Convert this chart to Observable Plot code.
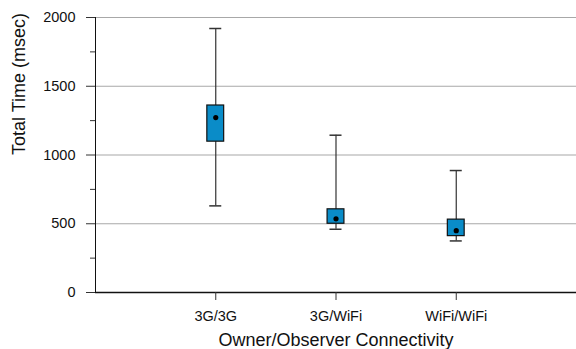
<!DOCTYPE html>
<html>
<head>
<meta charset="utf-8">
<script src="https://cdn.jsdelivr.net/npm/d3@7"></script>
<script src="https://cdn.jsdelivr.net/npm/@observablehq/plot@0.6"></script>
<style>
  html, body { margin: 0; padding: 0; background: #fff; }
  svg { display: block; }
</style>
</head>
<body>
<div id="chart"></div>
<script>
const categories = ["3G/3G", "3G/WiFi", "WiFi/WiFi"];
const whiskerLow  = [630, 460, 375];
const boxLow      = [1097, 500, 410];
const meanValue   = [1272, 536, 450];
const boxHigh     = [1360, 605, 530];
const whiskerHigh = [1920, 1144, 887];
const yTicks = [0, 500, 1000, 1500, 2000];
const yMinorTicks = [250, 750, 1250, 1750];
const gridTicks = [500, 1000, 1500, 2000];

const data = categories.map((c, i) => ({
  cat: c, pos: i + 1,
  wlo: whiskerLow[i], blo: boxLow[i], mean: meanValue[i], bhi: boxHigh[i], whi: whiskerHigh[i]
}));

const boxHalf = 0.07;
const capHalf = 0.05;

const chart = Plot.plot({
  width: 576,
  height: 349,
  marginLeft: 95,
  marginRight: 0,
  marginTop: 17,
  marginBottom: 57,
  style: { fontFamily: "'Liberation Sans', Arial, Helvetica, sans-serif", background: "#fff" },
  x: { type: "linear", domain: [0, 4] },
  y: { domain: [0, 2000] },
  marks: [
    Plot.gridY(gridTicks, { stroke: "#a8a8a8", strokeOpacity: 1, strokeWidth: 1.2 }),
    Plot.ruleY([0], { stroke: "#111", strokeWidth: 1.3 }),
    Plot.ruleX([0], { y1: 0, y2: 2000, stroke: "#111", strokeWidth: 1 }),
    Plot.axisY(yTicks, { tickSize: 9, tickPadding: 11, fontSize: 14.5, fill: "#111", stroke: "#333", tickFormat: d3.format("d"), label: null }),
    Plot.axisY(yMinorTicks, { tickSize: 5, tickFormat: () => "", stroke: "#333", label: null }),
    Plot.axisX(data.map(d => d.pos), { tickSize: 8, tickPadding: 10, fontSize: 14.5, fill: "#111", stroke: "#333",
      tickFormat: p => categories[p - 1], label: null }),
    Plot.text(["Owner/Observer Connectivity"], { frameAnchor: "bottom", dy: 53, fontSize: 18, fill: "#111", lineAnchor: "bottom" }),
    Plot.text(["Total Time (msec)"], { frameAnchor: "left", dx: -83, rotate: -90, fontSize: 18, fill: "#111", lineAnchor: "top" }),
    Plot.ruleX(data, { x: "pos", y1: "wlo", y2: "whi", stroke: "#333", strokeWidth: 1.2 }),
    Plot.ruleY(data, { y: "wlo", x1: d => d.pos - capHalf, x2: d => d.pos + capHalf, stroke: "#333", strokeWidth: 1.5 }),
    Plot.ruleY(data, { y: "whi", x1: d => d.pos - capHalf, x2: d => d.pos + capHalf, stroke: "#333", strokeWidth: 1.5 }),
    Plot.rect(data, { x1: d => d.pos - boxHalf, x2: d => d.pos + boxHalf, y1: "blo", y2: "bhi", fill: "#0a8cc8", stroke: "#111", strokeWidth: 1.2 }),
    Plot.dot(data, { x: "pos", y: "mean", r: 2.6, fill: "#000", stroke: "none" })
  ]
});
document.getElementById("chart").appendChild(chart);
</script>
</body>
</html>
